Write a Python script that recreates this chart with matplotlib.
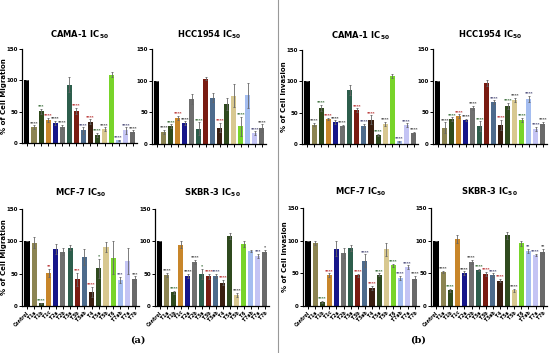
import matplotlib
matplotlib.use("Agg")
import matplotlib.pyplot as plt
from matplotlib.lines import Line2D

groups = ["Control", "T1a", "T1b", "T1c", "T2a", "T2b", "T3a", "T3b", "T3ab",
          "T4", "T5a", "T5b", "T6", "T7ab", "T7a", "T7b"]

colors = ["#000000", "#8c8452", "#2f4a1c", "#c8862a", "#16168a", "#6f6f6f",
          "#2d5e4c", "#7a1c12", "#4d6b8c", "#3a1e10", "#2f4a1e", "#d8c890",
          "#78d42a", "#a4bdf0", "#c4c4f4", "#6a6a6a"]
star_colors = ["#222222", "#333333", "#1f5a1f", "#b01818", "#222222", "#333333",
               "#1f5a1f", "#b01818", "#333366", "#b01818", "#1f5a1f", "#333333",
               "#1f5a1f", "#333366", "#333366", "#333333"]

# migration
cama_mig = [100, 25, 51, 37, 32, 26, 93, 51, 20, 34, 13, 22, 109, 4, 20, 18]
cama_mig_err = [0, 3, 4, 3, 3, 3, 12, 5, 5, 4, 3, 3, 4, 1, 5, 2]
cama_mig_sig = ["", "****", "***", "****", "****", "****", "", "****", "****",
                "****", "****", "****", "", "****", "****", "****"]

hcc_mig = [100, 19, 28, 41, 33, 71, 24, 103, 73, 26, 63, 76, 28, 77, 17, 25]
hcc_mig_err = [0, 3, 3, 3, 3, 8, 10, 2, 7, 7, 10, 18, 15, 20, 3, 6]
hcc_mig_sig = ["", "****", "****", "****", "****", "", "****", "", "", "****",
               "", "", "****", "", "****", "****"]

mcf_mig = [100, 98, 4, 51, 88, 84, 90, 41, 76, 22, 58, 91, 75, 40, 70, 41]
mcf_mig_err = [0, 8, 1, 6, 8, 5, 4, 10, 12, 8, 15, 8, 25, 5, 20, 5]
mcf_mig_sig = ["", "", "****", "**", "", "", "", "***", "", "****", "*", "",
               "", "***", "", "***"]

skbr_mig = [100, 48, 21, 95, 47, 68, 49, 46, 47, 36, 108, 17, 96, 85, 78, 84]
skbr_mig_err = [0, 3, 2, 5, 3, 3, 8, 4, 3, 4, 5, 3, 5, 2, 3, 3]
skbr_mig_sig = ["", "****", "****", "", "****", "****", "*", "****", "****",
                "****", "", "****", "", "", "***", "*"]

# invasion
cama_inv = [100, 31, 58, 40, 35, 29, 86, 54, 29, 39, 14, 32, 108, 4, 30, 17]
cama_inv_err = [0, 3, 5, 2, 3, 2, 8, 3, 3, 7, 2, 3, 3, 1, 3, 2]
cama_inv_sig = ["", "****", "****", "****", "****", "****", "", "****", "****",
                "****", "****", "****", "", "****", "****", "****"]

hcc_inv = [100, 26, 39, 44, 38, 57, 28, 96, 66, 30, 60, 70, 38, 71, 24, 32]
hcc_inv_err = [0, 8, 3, 3, 2, 3, 8, 5, 3, 8, 5, 3, 3, 5, 3, 3]
hcc_inv_sig = ["", "****", "****", "****", "****", "****", "****", "", "****",
               "****", "****", "****", "****", "****", "****", "****"]

mcf_inv = [100, 96, 6, 47, 88, 81, 89, 47, 69, 28, 48, 87, 62, 43, 59, 41]
mcf_inv_err = [0, 3, 2, 3, 12, 8, 5, 2, 10, 3, 2, 10, 3, 3, 3, 5]
mcf_inv_sig = ["", "", "****", "****", "", "", "", "****", "****", "****",
               "****", "", "****", "****", "****", "****"]

skbr_inv = [100, 52, 24, 103, 50, 68, 55, 49, 47, 39, 108, 24, 96, 84, 78, 83]
skbr_inv_err = [0, 2, 2, 6, 3, 3, 2, 3, 3, 3, 5, 2, 4, 3, 2, 4]
skbr_inv_sig = ["", "****", "****", "", "****", "****", "****", "****", "****",
                "****", "", "****", "", "**", "****", "**"]

W, H = 550, 353
fig = plt.figure(figsize=(5.5, 3.53), dpi=100)


def panel(left, top, bottom, width, title, vals, errs, sig, ylabel=None, xlabels=False):
    ax = fig.add_axes([left / W, 1 - bottom / H, width / W, (bottom - top) / H])
    x = range(len(vals))
    ax.bar(x, vals, width=0.72, color=colors, yerr=errs,
           error_kw=dict(ecolor="#666666", elinewidth=0.6, capsize=1, capthick=0.6))
    for i, s in enumerate(sig):
        if s:
            ax.text(i, vals[i] + errs[i] + 0.5, s, ha="center", va="bottom",
                    fontsize=3.0, color=star_colors[i], fontweight="bold",
                    clip_on=False)
    ax.set_xlim(-0.7, len(vals) - 0.4)
    ax.set_ylim(0, 150)
    ax.set_yticks([0, 50, 100, 150])
    ax.set_xticks(list(x))
    ax.spines["top"].set_visible(False)
    ax.spines["right"].set_visible(False)
    for s in ("left", "bottom"):
        ax.spines[s].set_linewidth(0.9)
    ax.tick_params(axis="both", length=2, width=0.7, labelsize=4, pad=1)
    for lab in ax.get_yticklabels():
        lab.set_fontweight("bold")
    if xlabels:
        ax.set_xticklabels(groups, rotation=45, ha="right", fontsize=3.3,
                           fontweight="bold", rotation_mode="anchor")
    else:
        ax.set_xticklabels([])
    ax.set_title(title, fontsize=6, fontweight="bold",
                 pad=10 if xlabels else 8)
    if ylabel:
        ax.set_ylabel(ylabel, fontsize=5, fontweight="bold")
        ax.yaxis.set_label_coords(-15 / width, 0.5)
    return ax


panel(22, 49, 143, 115, "CAMA-1 IC$_{\\mathbf{50}}$", cama_mig, cama_mig_err, cama_mig_sig,
      ylabel="% of Cell Migration")
panel(152, 49, 144, 114, "HCC1954 IC$_{\\mathbf{50}}$", hcc_mig, hcc_mig_err, hcc_mig_sig)
panel(22, 209, 306, 117, "MCF-7 IC$_{\\mathbf{50}}$", mcf_mig, mcf_mig_err, mcf_mig_sig,
      ylabel="% of Cell Migration", xlabels=True)
panel(155, 209, 306, 114, "SKBR-3 IC$_{\\mathbf{50}}$", skbr_mig, skbr_mig_err, skbr_mig_sig,
      xlabels=True)

panel(302, 50, 144, 116, "CAMA-1 IC$_{\\mathbf{50}}$", cama_inv, cama_inv_err, cama_inv_sig,
      ylabel="% of Cell Invasion")
panel(433, 49, 144, 114, "HCC1954 IC$_{\\mathbf{50}}$", hcc_inv, hcc_inv_err, hcc_inv_sig)
panel(303, 208, 306, 116, "MCF-7 IC$_{\\mathbf{50}}$", mcf_inv, mcf_inv_err, mcf_inv_sig,
      ylabel="% of Cell Invasion", xlabels=True)
panel(431, 208, 306, 116, "SKBR-3 IC$_{\\mathbf{50}}$", skbr_inv, skbr_inv_err, skbr_inv_sig,
      xlabels=True)

fig.add_artist(Line2D([278 / W, 278 / W], [0, 1], color="#999999", linewidth=0.8))
fig.text(138 / W, 1 - 340 / H, "(a)", fontsize=7, family="DejaVu Serif",
         fontweight="bold", ha="center", va="center")
fig.text(418 / W, 1 - 340 / H, "(b)", fontsize=7, family="DejaVu Serif",
         fontweight="bold", ha="center", va="center")

fig.savefig("out.png", dpi=100)
